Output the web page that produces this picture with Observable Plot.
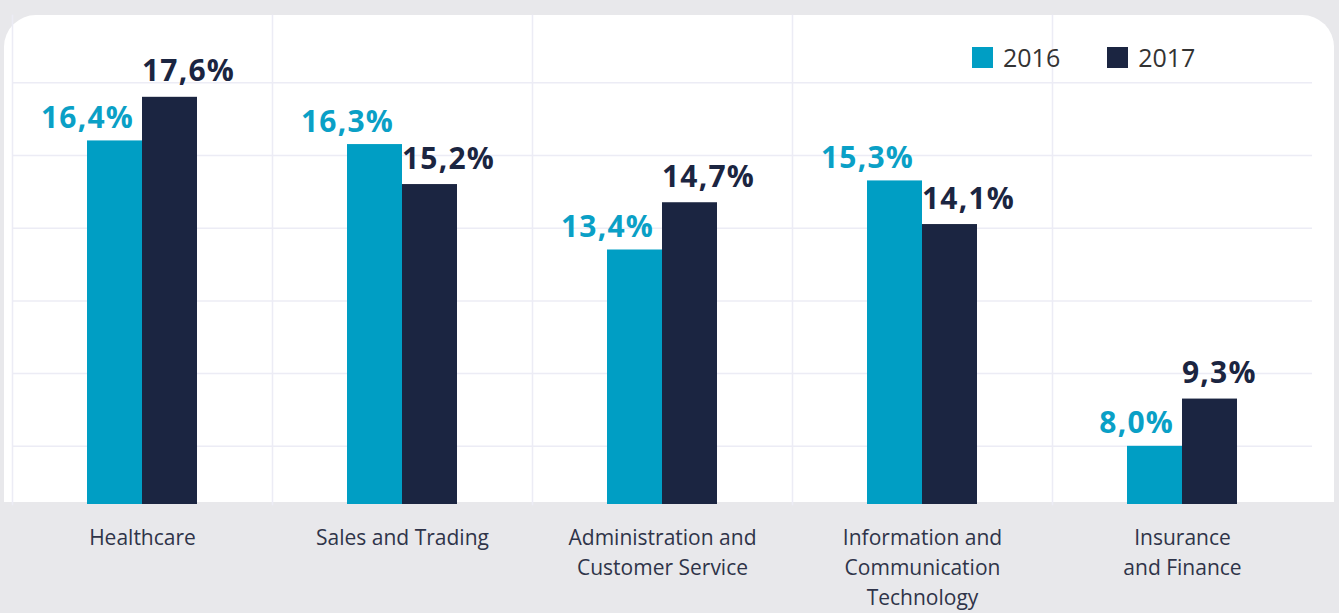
<!DOCTYPE html>
<html>
<head>
<meta charset="utf-8">
<script src="https://cdn.jsdelivr.net/npm/d3@7"></script>
<script src="https://cdn.jsdelivr.net/npm/@observablehq/plot@0.6"></script>
<style>
  html, body { margin: 0; padding: 0; background: #e8e8eb; width: 1339px; height: 613px; overflow: hidden; font-family: "Open Sans", sans-serif; }
  #wrap { position: relative; width: 1339px; height: 613px; }
  #panel { position: absolute; left: 4px; top: 15px; width: 1330px; height: 487px; background: #ffffff; border-radius: 32px 32px 0 0; }
  #chart { position: absolute; left: 0; top: 0; }
  #chart g[font-weight="700"] { letter-spacing: 1.2px; }
  #legend { position: absolute; left: 972px; top: 40px; display: flex; align-items: center; font-size: 25px; color: #333333; }
  #legend .item { display: flex; align-items: center; margin-right: 47px; }
  #legend .sw { width: 21px; height: 21px; margin-right: 10px; }
</style>
</head>
<body>
<div id="wrap">
  <div id="panel"></div>
  <div id="chart"></div>
  <div id="legend"></div>
</div>
<script>
const categories = ["Healthcare", "Sales and Trading", "Administration and Customer Service", "Information and Communication Technology", "Insurance and Finance"];
const categoryLabels = ["Healthcare", "Sales and Trading", "Administration and\nCustomer Service", "Information and\nCommunication\nTechnology", "Insurance\nand Finance"];
const years = ["2016", "2017"];
const values2016 = [16.4, 16.3, 13.4, 15.3, 8.0];
const values2017 = [17.6, 15.2, 14.7, 14.1, 9.3];
const gridValues = [8, 10, 12, 14, 16, 18];
const barColors = ["#009ec4", "#1b2541"];
const labelColors = ["#0aa0c6", "#1b2541"];

const data = categories.flatMap((c, i) => [
  {category: c, year: years[0], value: values2016[i]},
  {category: c, year: years[1], value: values2017[i]}
]);
const fmt = v => v.toFixed(1).replace(".", ",") + "%";

const chart = Plot.plot({
  width: 1339,
  height: 613,
  marginTop: 15,
  marginBottom: 109,
  marginLeft: 11,
  marginRight: 27,
  style: {background: "transparent", fontFamily: "Open Sans, sans-serif", overflow: "visible"},
  fx: {domain: categories, padding: 0, axis: null},
  x: {domain: years, paddingInner: 0, paddingOuter: 1.342, axis: null},
  y: {domain: [6.4, 19.85], clamp: true, axis: null},
  color: {domain: years, range: barColors},
  marks: [
    Plot.ruleY(gridValues, {stroke: "#ececf5", strokeWidth: 1.5}),
    Plot.frame({anchor: "left", stroke: "#ececf5", strokeWidth: 1.5}),
    Plot.barY(data, {fx: "category", x: "year", y: "value", fill: "year"}),
    Plot.text(data.filter(d => d.year === years[0]), {
      fx: "category", x: "year", y: "value", text: d => fmt(d.value),
      textAnchor: "end", lineAnchor: "bottom", dx: 19, dy: -13,
      fill: labelColors[0], fontSize: 30, fontWeight: 700
    }),
    Plot.text(data.filter(d => d.year === years[1]), {
      fx: "category", x: "year", y: "value", text: d => fmt(d.value),
      textAnchor: "start", lineAnchor: "bottom", dx: -28, dy: -16,
      fill: labelColors[1], fontSize: 30, fontWeight: 700
    }),
    Plot.text(categories, {
      fx: d => d, text: (d, i) => categoryLabels[i],
      frameAnchor: "bottom", lineAnchor: "top", dy: 19, lineHeight: 1.43,
      fill: "#2f3449", fontSize: 21
    })
  ]
});
document.getElementById("chart").appendChild(chart);

const legend = document.getElementById("legend");
years.forEach((y, i) => {
  const item = document.createElement("div");
  item.className = "item";
  const sw = document.createElement("div");
  sw.className = "sw";
  sw.style.background = barColors[i];
  const t = document.createElement("span");
  t.textContent = y;
  item.appendChild(sw);
  item.appendChild(t);
  legend.appendChild(item);
});
</script>
</body>
</html>
